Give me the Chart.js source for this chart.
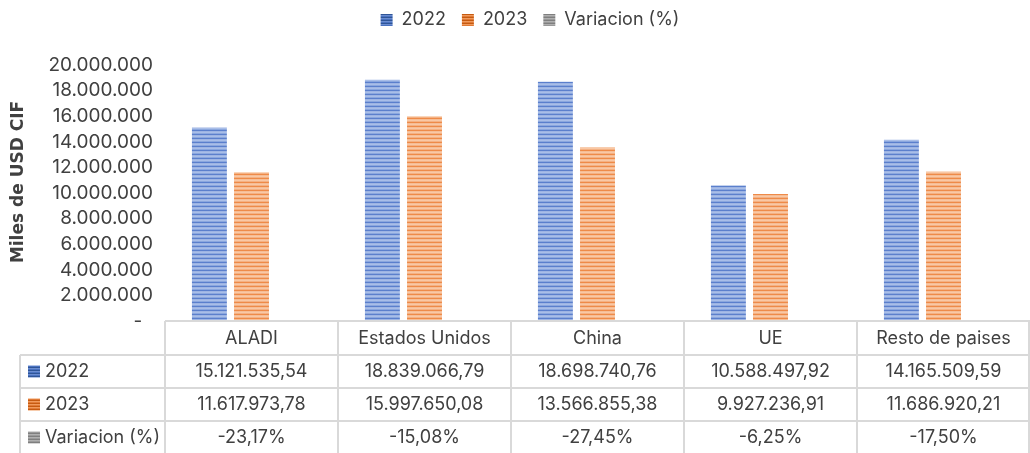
<!DOCTYPE html>
<html>
<head>
<meta charset="utf-8">
<script src="https://cdn.jsdelivr.net/npm/chart.js@4.4.1/dist/chart.umd.min.js"></script>
<style>
  html, body { margin: 0; padding: 0; background: #fff; }
  #wrap { width: 1030px; height: 453px; }
</style>
</head>
<body>
<div id="wrap"><canvas id="chart" width="1030" height="453"></canvas></div>
<script>
const categories = ['ALADI', 'Estados Unidos', 'China', 'UE', 'Resto de paises'];
const values2022 = [15121535.54, 18839066.79, 18698740.76, 10588497.92, 14165509.59];
const values2023 = [11617973.78, 15997650.08, 13566855.38, 9927236.91, 11686920.21];
const variacion = [-23.17, -15.08, -27.45, -6.25, -17.50];
const yTicks = [0, 2000000, 4000000, 6000000, 8000000, 10000000, 12000000, 14000000, 16000000, 18000000, 20000000];

const FONT = 'Inter, "Noto Sans", sans-serif';
const TEXT = '#404040';
const LINE = '#d9d9d9';

// horizontal stripe fill, like the excel pattern fill
function stripes(rows) {
  const c = document.createElement('canvas');
  c.width = 4; c.height = rows.length;
  const g = c.getContext('2d');
  rows.forEach((col, i) => { g.fillStyle = col; g.fillRect(0, i, 4, 1); });
  return g.createPattern(c, 'repeat');
}
const ctx = document.getElementById('chart').getContext('2d');
const fill2022 = stripes(['#a9bee8', '#8ba7de', '#5b7fcc', '#9db4e3']);
const fill2023 = stripes(['#f9c8a5', '#f4b183', '#ee8a48', '#f6bd95']);
const key2022 = stripes(['#4a72c0', '#2f5597', '#6a8cd0']);
const key2023 = stripes(['#e07a36', '#c55a11', '#f09a5c']);
const keyVar = stripes(['#9a9a9a', '#7f7f7f', '#b0b0b0']);
const keys = [key2022, key2023, keyVar];

function fmtMiles(v) {
  return String(Math.round(v)).replace(/\B(?=(\d{3})+(?!\d))/g, '.');
}
function fmtNum(v) {
  const parts = v.toFixed(2).split('.');
  return parts[0].replace(/\B(?=(\d{3})+(?!\d))/g, '.') + ',' + parts[1];
}
function fmtPct(v) {
  return v.toFixed(2).replace('.', ',') + '%';
}

// more room under the legend, and nudge it like the excel one
const legendTweak = {
  id: 'legendTweak',
  beforeInit(chart) {
    const lg = chart.legend;
    const fit = lg.fit;
    lg.fit = function () {
      fit.call(lg);
      this.height += 21;
    };
    const draw = lg.draw;
    lg.draw = function (a) {
      chart.ctx.save();
      chart.ctx.translate(15, -5);
      draw.call(lg, a);
      chart.ctx.restore();
    };
  }
};

const yTitle = {
  id: 'yTitle',
  afterDraw(chart) {
    const c = chart.ctx;
    c.save();
    c.translate(19, 182);
    c.rotate(-Math.PI / 2);
    c.font = 'bold 17px "DejaVu Sans", sans-serif';
    c.fillStyle = TEXT;
    c.textAlign = 'center';
    c.textBaseline = 'middle';
    c.fillText('Miles de USD CIF', 0, 0);
    c.restore();
  }
};

const dataTable = {
  id: 'dataTable',
  afterDraw(chart) {
    const c = chart.ctx;
    const x = chart.scales.x;
    const area = chart.chartArea;
    const cw = (area.right - area.left) / categories.length;
    const top = area.bottom;
    const rowH = 33;
    const leftX = 20;
    const rows = [
      { label: '2022', vals: values2022.map(fmtNum) },
      { label: '2023', vals: values2023.map(fmtNum) },
      { label: 'Variacion (%)', vals: variacion.map(fmtPct) }
    ];
    c.save();
    c.strokeStyle = LINE;
    c.lineWidth = 2;
    c.beginPath();
    c.moveTo(area.left, top); c.lineTo(area.right, top);
    for (let r = 1; r <= 3; r++) {
      c.moveTo(leftX, top + r * rowH + 1); c.lineTo(area.right, top + r * rowH + 1);
    }
    c.moveTo(leftX, top + rowH + 1); c.lineTo(leftX, chart.height);
    for (let i = 0; i <= categories.length; i++) {
      const bx = Math.min(x.getPixelForValue(i) - cw / 2, area.right - 1);
      c.moveTo(bx, top); c.lineTo(bx, chart.height);
    }
    c.stroke();

    c.font = '18px ' + FONT;
    c.fillStyle = TEXT;
    c.textBaseline = 'middle';
    c.textAlign = 'center';
    categories.forEach((cat, i) => {
      c.fillText(cat, x.getPixelForValue(i), top + rowH / 2 + 1);
    });
    rows.forEach((row, r) => {
      const cy = top + (r + 1) * rowH + rowH / 2 + 1;
      c.fillStyle = keys[r];
      c.fillRect(28, cy - 6, 12, 12);
      c.fillStyle = TEXT;
      c.textAlign = 'left';
      c.fillText(row.label, 45, cy);
      c.textAlign = 'center';
      row.vals.forEach((v, i) => c.fillText(v, x.getPixelForValue(i), cy));
    });
    c.restore();
  }
};

new Chart(ctx, {
  type: 'bar',
  data: {
    labels: categories,
    datasets: [
      { label: '2022', data: values2022, backgroundColor: fill2022 },
      { label: '2023', data: values2023, backgroundColor: fill2023 },
      { label: 'Variacion (%)', data: variacion.map(v => v / 100), backgroundColor: keyVar }
    ]
  },
  options: {
    responsive: false,
    animation: false,
    categoryPercentage: 0.73,
    barPercentage: 0.83,
    layout: { padding: { top: 0, bottom: 132, left: 0, right: 0 } },
    plugins: {
      tooltip: { enabled: false },
      legend: {
        position: 'top',
        labels: {
          boxWidth: 12,
          boxHeight: 12,
          padding: 16,
          color: TEXT,
          font: { size: 18, family: FONT },
          generateLabels(chart) {
            return chart.data.datasets.map((d, i) => ({
              text: d.label, fillStyle: keys[i], strokeStyle: 'transparent',
              lineWidth: 0, datasetIndex: i, hidden: false, fontColor: TEXT
            }));
          }
        }
      }
    },
    scales: {
      x: { display: false },
      y: {
        min: 0,
        max: 20000000,
        afterBuildTicks(s) { s.ticks = yTicks.map(v => ({ value: v })); },
        afterFit(s) { s.width = 165; },
        grid: { display: false, drawTicks: false },
        border: { display: false },
        ticks: {
          autoSkip: false,
          padding: 12,
          color: TEXT,
          font: { size: 19, family: FONT },
          callback: v => v === 0 ? '-  ' : fmtMiles(v)
        }
      }
    }
  },
  plugins: [legendTweak, yTitle, dataTable]
});
</script>
</body>
</html>
